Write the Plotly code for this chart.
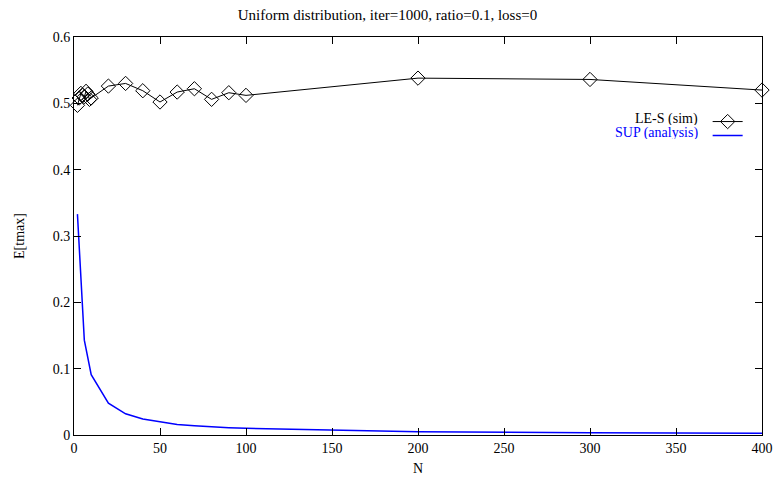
import plotly.graph_objects as go

# Data
sim_n = [2, 3, 4, 5, 6, 7, 8, 9, 10, 20, 30, 40, 50, 60, 70, 80, 90, 100, 200, 300, 400]
sim_val = [0.497, 0.508, 0.515, 0.512, 0.510, 0.518, 0.514, 0.506, 0.508,
           0.526, 0.530, 0.519, 0.502, 0.517, 0.522, 0.506, 0.516, 0.512,
           0.538, 0.536, 0.520]
sup_n = [2, 6, 10, 20, 30, 40, 50, 60, 70, 80, 90, 100, 200, 300, 400]
sup_val = [0.333, 0.143, 0.091, 0.048, 0.032, 0.024, 0.020, 0.016, 0.014,
           0.012, 0.011, 0.010, 0.005, 0.0033, 0.0025]
x_ticks = [0, 50, 100, 150, 200, 250, 300, 350, 400]
y_ticks = [0, 0.1, 0.2, 0.3, 0.4, 0.5, 0.6]
y_tick_labels = ["0", "0.1", "0.2", "0.3", "0.4", "0.5", "0.6"]

FONT = "Liberation Serif"

fig = go.Figure()
fig.add_trace(go.Scatter(
    x=sup_n, y=sup_val, mode="lines", name=" ", legend="legend",
    line=dict(color="#0000ff", width=1.5),
))
fig.add_trace(go.Scatter(
    x=sim_n, y=sim_val, mode="lines+markers", name=" ", legend="legend2",
    line=dict(color="black", width=1),
    marker=dict(symbol="diamond-open", size=11, color="black", line=dict(width=1)),
    cliponaxis=False,
))

axis_common = dict(
    showgrid=False, zeroline=False, showline=True, linecolor="black", linewidth=1,
    mirror="allticks", ticks="inside", ticklen=7, tickcolor="black", tickwidth=1,
    tickfont=dict(family=FONT, size=14, color="black"), automargin=False,
)

leg_common = dict(xanchor="left", yanchor="top", bgcolor="rgba(0,0,0,0)",
                  font=dict(family=FONT, size=10), itemwidth=30)

fig.update_layout(
    width=775, height=479,
    margin=dict(l=74, r=13, t=37, b=44, autoexpand=False),
    paper_bgcolor="white", plot_bgcolor="white",
    font=dict(family=FONT, size=14, color="black"),
    title=dict(text="Uniform distribution, iter=1000, ratio=0.1, loss=0",
               x=0.5, xanchor="center", y=0.97, yanchor="middle",
               font=dict(family=FONT, size=15, color="black")),
    xaxis=dict(range=[0, 400], tickvals=x_ticks,
               title=dict(text="N", standoff=8, font=dict(family=FONT, size=14)),
               **axis_common),
    yaxis=dict(range=[0, 0.6], tickvals=y_ticks, ticktext=y_tick_labels,
               title=dict(text="E[tmax]", standoff=24, font=dict(family=FONT, size=14)),
               **axis_common),
    showlegend=True,
    legend2=dict(x=0.921, y=0.824, **leg_common),
    legend=dict(x=0.921, y=0.789, **leg_common),
    annotations=[
        dict(text="LE-S (sim)", xref="paper", yref="paper", x=0.910, y=0.794,
             xanchor="right", yanchor="middle", showarrow=False, height=13,
             font=dict(family=FONT, size=14, color="black")),
        dict(text="SUP (analysis)", xref="paper", yref="paper", x=0.910, y=0.759,
             xanchor="right", yanchor="middle", showarrow=False, height=13,
             font=dict(family=FONT, size=14, color="blue")),
    ],
)

fig.write_html("out.html")
